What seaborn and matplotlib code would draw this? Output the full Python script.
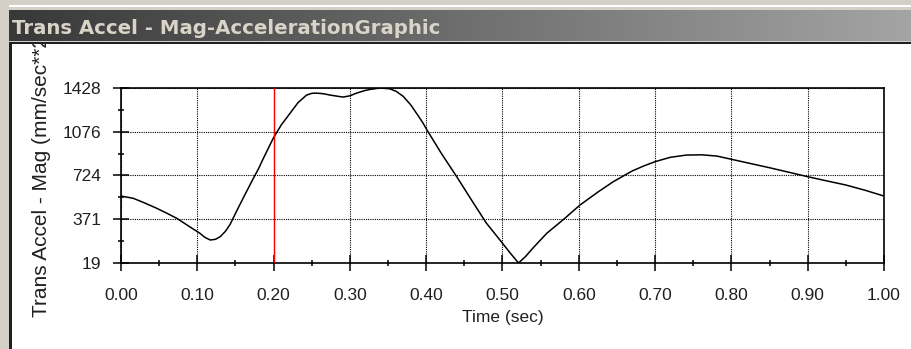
import numpy as np
import pandas as pd
import matplotlib
matplotlib.use("Agg")
import matplotlib.pyplot as plt
from matplotlib.patches import Rectangle
from matplotlib.colors import LinearSegmentedColormap
import seaborn as sns

# ---- data ----
time_s = [0.000, 0.016, 0.030, 0.047, 0.060, 0.073, 0.090, 0.1035, 0.110, 0.117,
          0.124, 0.130, 0.137, 0.143, 0.147, 0.153, 0.160, 0.1734, 0.180, 0.1865,
          0.1995, 0.210, 0.2215, 0.232, 0.243, 0.250, 0.256, 0.265, 0.275, 0.291,
          0.300, 0.308, 0.318, 0.325, 0.339, 0.352, 0.361, 0.370, 0.380, 0.390,
          0.396, 0.401, 0.410, 0.420, 0.440, 0.460, 0.479, 0.490, 0.500, 0.510,
          0.521, 0.530, 0.540, 0.558, 0.580, 0.6016, 0.625, 0.645, 0.670, 0.685,
          0.700, 0.720, 0.741, 0.761, 0.781, 0.800, 0.825, 0.850, 0.875, 0.900,
          0.925, 0.950, 0.975, 1.000]
accel_mag = [558, 540, 505, 459, 420, 379, 311, 258, 225, 204,
             210, 231, 275, 330, 380, 455, 540, 700, 775, 860,
             1023, 1130, 1224, 1310, 1370, 1385, 1387, 1382, 1370, 1355,
             1365, 1385, 1405, 1415, 1428, 1422, 1400, 1360, 1290, 1200,
             1144, 1090, 1000, 900, 714, 520, 339, 255, 178, 100,
             19, 70, 140, 258, 370, 486, 590, 673, 760, 800,
             835, 870, 888, 890, 880, 854, 820, 786, 750, 714,
             680, 647, 605, 558]
x_ticks = [0.0, 0.1, 0.2, 0.3, 0.4, 0.5, 0.6, 0.7, 0.8, 0.9, 1.0]
y_ticks = [19, 371, 724, 1076, 1428]
cursor_time = 0.20
window_title = "Trans Accel - Mag-AccelerationGraphic"
x_label = "Time (sec)"
y_label = "Trans Accel - Mag (mm/sec**2)"

df = pd.DataFrame({"t": time_s, "v": accel_mag})

sns.set_theme(style="white")
plt.rcParams["font.family"] = ["Liberation Sans", "DejaVu Sans"]

W, H = 912, 349
fig = plt.figure(figsize=(W / 100, H / 100), dpi=100, facecolor="white")

def fx(px):
    return px / W

def fy(py):
    return 1 - py / H

def rect(x0, y0, x1, y1, color, z=1):
    fig.add_artist(Rectangle((fx(x0), fy(y1)), fx(x1) - fx(x0), fy(y0) - fy(y1),
                             transform=fig.transFigure, facecolor=color,
                             edgecolor="none", zorder=z))

# window frame
rect(0, 0, W, 10, "#d4d0c8", z=6)
rect(0, 5, W, 7, "#ffffff", z=6)
rect(0, 41, W, 42, "#d4d0c8", z=6)
rect(0, 42, W, 44, "#202020", z=6)
rect(0, 0, 9, H, "#d4d0c8", z=6)
rect(9, 42, 12, H, "#202020", z=6)

# title bar gradient
tax = fig.add_axes([fx(9), fy(41), fx(W) - fx(9), fy(10) - fy(41)], zorder=7)
grad = np.linspace(0, 1, 256).reshape(1, -1)
cmap = LinearSegmentedColormap.from_list("tb", ["#383838", "#a4a4a4"])
tax.imshow(grad, aspect="auto", cmap=cmap, extent=[0, 1, 0, 1])
tax.set_axis_off()
fig.text(fx(12), fy(34), window_title, color="#d8d4c8", fontsize=14.2,
         fontweight="bold", family=["DejaVu Sans"], ha="left", va="baseline",
         zorder=8)

# main axes
ax = fig.add_axes([fx(121), fy(263), fx(884) - fx(121), fy(88) - fy(263)])
sns.lineplot(data=df, x="t", y="v", ax=ax, color="black", linewidth=1.1)
ax.axvline(cursor_time, color="#ff0000", linewidth=1.0, zorder=3)

ax.set_xlim(0, 1.0)
ax.set_ylim(y_ticks[0], y_ticks[-1])
ax.set_xticks(x_ticks)
ax.set_xticklabels([f"{v:.2f}" for v in x_ticks])
ax.set_yticks(y_ticks)
ax.set_yticklabels([str(v) for v in y_ticks])
ax.set_xticks([v + 0.05 for v in x_ticks[:-1]], minor=True)
ax.set_yticks([(a + b) / 2 for a, b in zip(y_ticks[:-1], y_ticks[1:])], minor=True)
ax.grid(True, which="major", color="black", linestyle=(0, (1, 1)), linewidth=0.8)
ax.tick_params(which="major", direction="inout", length=11, width=1.1,
               color="black", labelsize=12.5, labelcolor="#202020",
               bottom=True, left=True)
ax.tick_params(axis="x", which="major", pad=12.5)
ax.tick_params(axis="y", which="major", pad=9)
ax.tick_params(which="minor", direction="inout", length=5, width=1.1,
               color="black", bottom=True, left=True)
for s in ax.spines.values():
    s.set_visible(True)
    s.set_color("black")
    s.set_linewidth(1.2)
ax.set_xlabel(x_label, fontsize=12.5, color="#202020", labelpad=5)
ax.set_ylabel("")
ax.set_facecolor("white")

fig.text(fx(42), fy(317), y_label, rotation=90, ha="center", va="bottom",
         fontsize=15, color="#202020", zorder=3)

fig.savefig("out.png", dpi=100, facecolor="white")
